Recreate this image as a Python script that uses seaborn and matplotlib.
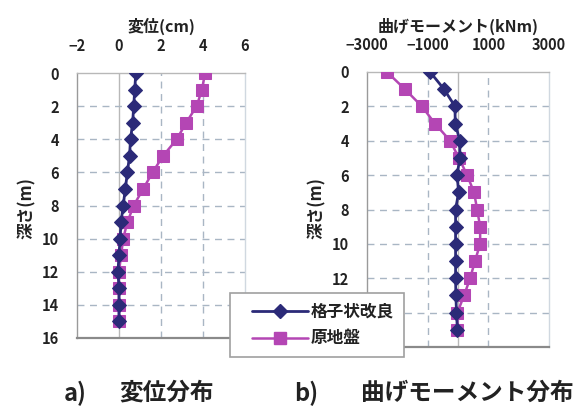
import matplotlib
matplotlib.use("Agg")
import matplotlib.pyplot as plt
from matplotlib.lines import Line2D
from matplotlib.legend_handler import HandlerLine2D
import seaborn as sns
import pandas as pd

sns.set_theme(style="white")
plt.rcParams["font.family"] = ["Noto Sans CJK JP", "DejaVu Sans"]

# Depth below ground (m)
depth = [0, 1, 2, 3, 4, 5, 6, 7, 8, 9, 10, 11, 12, 13, 14, 15]

# Horizontal displacement (cm)
disp_lattice = [0.8, 0.75, 0.7, 0.65, 0.55, 0.5, 0.4, 0.3, 0.2, 0.1, 0.05, 0.0, -0.05, 0.0, 0.0, 0.0]
disp_original = [4.1, 3.95, 3.7, 3.2, 2.75, 2.1, 1.6, 1.15, 0.7, 0.4, 0.2, 0.1, 0.0, 0.0, 0.0, 0.0]

# Bending moment (kNm)
moment_lattice = [-920, -460, -100, -90, 60, 60, -30, 20, -80, -80, -80, -80, -80, -70, -50, -20]
moment_original = [-2340, -1750, -1190, -760, -260, 30, 300, 530, 630, 730, 730, 560, 400, 200, -20, -20]

series_names = ["格子状改良", "原地盤"]
disp_ticks = [-2, 0, 2, 4, 6]
moment_ticks = [-3000, -1000, 1000, 3000]
depth_ticks = [0, 2, 4, 6, 8, 10, 12, 14, 16]

navy = "#2b2a78"
magenta = "#b446b4"
grid_col = "#a9b6c4"
frame_col = "#b8b8b8"
text_col = "#222222"

fig = plt.figure(figsize=(5.84, 4.16), dpi=100)
fig.patch.set_facecolor("white")

W, H = 584, 416
ax1 = fig.add_axes([77 / W, 1 - 338 / H, 168 / W, 265 / H])
ax2 = fig.add_axes([367 / W, 1 - 347 / H, 182 / W, 275 / H])


def draw(ax, xa, xb, xlim, xticks, grid_x, xlabel, lab_xy, ylab_xy, ytick_shown):
    df = pd.DataFrame({"x": xa + xb, "depth": depth + depth,
                       "series": [series_names[0]] * len(depth) + [series_names[1]] * len(depth)})
    # reference lines first so the data sits on top
    for g in grid_x:
        ax.axvline(g, color=grid_col, lw=1.0, ls=(0, (5, 4)), zorder=0)
    ax.axvline(0, color=frame_col, lw=1.0, zorder=0)
    for d in depth_ticks[1:-1]:
        ax.axhline(d, color=grid_col, lw=1.0, ls=(0, (5, 4)), zorder=0)

    sns.lineplot(data=df[df.series == series_names[1]], x="x", y="depth", orient="y", sort=False,
                 ax=ax, color=magenta, marker="s", markersize=8.5, lw=1.8,
                 markeredgecolor=magenta, legend=False, zorder=3)
    sns.lineplot(data=df[df.series == series_names[0]], x="x", y="depth", orient="y", sort=False,
                 ax=ax, color=navy, marker="D", markersize=7, lw=2.0,
                 markeredgecolor=navy, legend=False, zorder=4)

    ax.set_xlim(*xlim)
    ax.set_ylim(16, 0)
    ax.set_xticks(xticks)
    ax.set_xticklabels([f"{v}".replace("-", "−") for v in xticks])
    ax.set_yticks(depth_ticks)
    ax.set_yticklabels([str(d) if d in ytick_shown else "" for d in depth_ticks])
    ax.xaxis.tick_top()
    ax.xaxis.set_label_position("top")
    ax.tick_params(axis="x", length=0, pad=14, labelsize=10.5)
    ax.tick_params(axis="y", length=0, pad=13, labelsize=10.5)
    for t in ax.get_xticklabels() + ax.get_yticklabels():
        t.set_fontweight("bold")
        t.set_color(text_col)

    ax.set_xlabel(xlabel, fontsize=11.5, fontweight="bold", color=text_col)
    ax.xaxis.set_label_coords(*lab_xy)
    ax.xaxis.label.set_va("center")
    ax.set_ylabel("深さ(m)", fontsize=12, fontweight="bold", color=text_col)
    ax.yaxis.set_label_coords(*ylab_xy)
    ax.yaxis.label.set_va("center")

    for side, sp in ax.spines.items():
        sp.set_visible(True)
        sp.set_color(frame_col)
        sp.set_linewidth(1.0)
    ax.spines["left"].set_color("#9a9a9a")
    ax.spines["bottom"].set_color("#8a8a8a")
    ax.spines["bottom"].set_linewidth(1.6)
    ax.spines["right"].set_color("#d0d8e0")


draw(ax1, disp_lattice, disp_original, (-2, 6), disp_ticks, [2, 4],
     "変位(cm)", (0.5, (338 - 26) / 265), ((27 - 77) / 168, (338 - 208) / 265), depth_ticks)
draw(ax2, moment_lattice, moment_original, (-3000, 3000), moment_ticks, [-1000, 1000],
     "曲げモーメント(kNm)", (0.5, (347 - 26) / 275), ((317 - 367) / 182, (347 - 208) / 275),
     depth_ticks[:7])

handles = [
    Line2D([], [], color=navy, lw=2.0, marker="D", markersize=7, markeredgecolor=navy),
    Line2D([], [], color=magenta, lw=1.8, marker="s", markersize=8.5, markeredgecolor=magenta),
]
leg = fig.legend(handles, series_names, loc="upper left",
                 bbox_to_anchor=(230 / W, 1 - 293 / H), frameon=True, fancybox=False,
                 edgecolor="#a0a0a0", facecolor="white", framealpha=1.0,
                 handlelength=4.1, handletextpad=0.15, labelspacing=0.5,
                 borderpad=0.6, borderaxespad=0,
                 handler_map={Line2D: HandlerLine2D(xpad=0.72)},
                 prop={"family": ["Noto Sans CJK JP", "DejaVu Sans"], "size": 12, "weight": "bold"})
leg.set_zorder(10)
leg.get_frame().set_linewidth(1.2)
for t in leg.get_texts():
    t.set_color(text_col)

cap_kw = dict(ha="center", va="center", fontsize=17, fontweight="bold", color=text_col)
fig.text(75 / W, 1 - 393 / H, "a)", **cap_kw)
fig.text(167 / W, 1 - 393 / H, "変位分布", **cap_kw)
fig.text(306 / W, 1 - 393 / H, "b)", **cap_kw)
fig.text(467 / W, 1 - 393 / H, "曲げモーメント分布", **cap_kw)

fig.savefig("out.png", dpi=100, facecolor="white")
